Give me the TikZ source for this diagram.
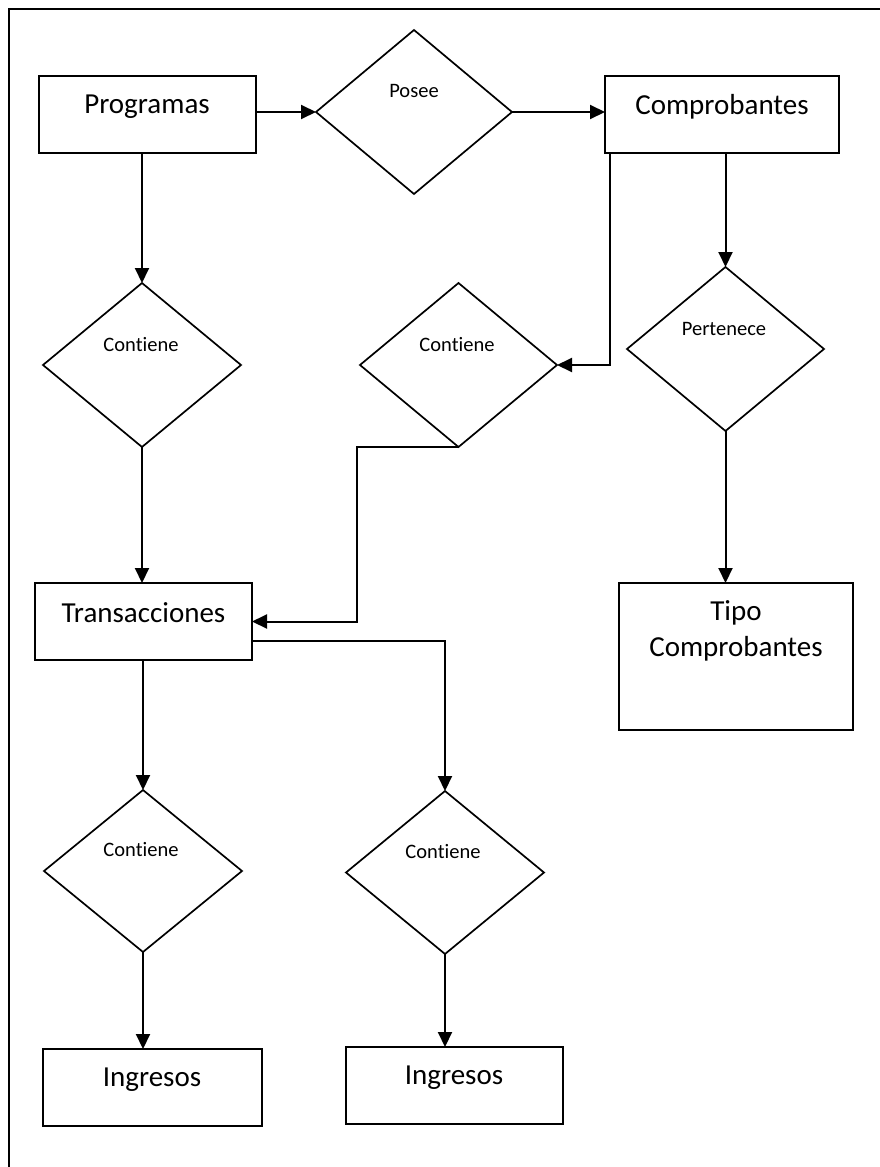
\documentclass[tikz,border=0pt]{standalone}
\usepackage{fontspec}
\setmainfont[Ligatures={NoCommon}]{Carlito}
\usetikzlibrary{shapes.geometric,arrows.meta}
\tikzset{
  ent/.style={draw, rectangle, line width=2pt, inner sep=0pt, outer sep=0pt},
  rel/.style={draw, diamond, line width=1.7pt, inner sep=0pt, outer sep=0pt},
  bigtxt/.style={font=\fontsize{29}{36}\selectfont, inner sep=0pt, align=center},
  smalltxt/.style={font=\fontsize{20.5}{24}\selectfont, inner sep=0pt},
  conn/.style={line width=2pt, -{Triangle[length=15pt,width=14pt]}},
  frameline/.style={line width=2pt}
}
\begin{document}
\begin{tikzpicture}[x=1pt,y=-1pt]
\useasboundingbox (0,0) rectangle (880,1167);
% frame
\coordinate (ftr) at (880,9);
\coordinate (ftl) at (9,9);
\coordinate (fbl) at (9,1167);
\draw[frameline] (ftr) -- (ftl) -- (fbl);

% entities
\node[ent, minimum width=217pt, minimum height=77pt] (prog) at (147.5,114.5) {};
\node[ent, minimum width=234pt, minimum height=77pt] (comp) at (722,114.5) {};
\node[ent, minimum width=217pt, minimum height=77pt] (trans) at (143.5,621.5) {};
\node[ent, minimum width=234pt, minimum height=147pt] (tipo) at (736,656.5) {};
\node[ent, minimum width=219pt, minimum height=77pt] (ing1) at (152.5,1087.5) {};
\node[ent, minimum width=217pt, minimum height=77pt] (ing2) at (454.5,1085.5) {};

% relationships
\node[rel, minimum width=196pt, minimum height=164pt] (posee) at (414,112) {};
\node[rel, minimum width=198pt, minimum height=164pt] (cont1) at (142,365) {};
\node[rel, minimum width=197pt, minimum height=164pt] (cont2) at (458.5,365) {};
\node[rel, minimum width=197pt, minimum height=164pt] (pert) at (725.5,349) {};
\node[rel, minimum width=198pt, minimum height=162pt] (cont3) at (143,871) {};
\node[rel, minimum width=198pt, minimum height=163pt] (cont4) at (445,872.5) {};

% texts
\node[bigtxt] (progt) at (147,107) {Programas};
\node[bigtxt] (compt) at (722,107) {Comprobantes};
\node[bigtxt] (transt) at (143.5,613) {Transacciones};
\node[bigtxt] (tipot) at (736,631) {Tipo\\Comprobantes};
\node[bigtxt] (ing1t) at (152,1080) {Ingresos};
\node[bigtxt] (ing2t) at (454,1078) {Ingresos};
\node[smalltxt] (poseet) at (414,91) {Posee};
\node[smalltxt] (cont1t) at (141,345) {Contiene};
\node[smalltxt] (cont2t) at (457,345) {Contiene};
\node[smalltxt] (pertt) at (724,329) {Pertenece};
\node[smalltxt] (cont3t) at (141,850) {Contiene};
\node[smalltxt] (cont4t) at (443,852) {Contiene};

% connectors
\draw[conn] (prog.east |- posee.west) -- (posee.west);
\draw[conn] (posee.east) -- (posee.east -| comp.west);
\draw[conn] (pert.north |- comp.south) -- (pert.north);
\draw[conn] ([xshift=5pt]comp.south west) |- (cont2.east);
\draw[conn] (cont1.north |- prog.south) -- (cont1.north);
\draw[conn] (cont1.south) -- (cont1.south |- trans.north);
\coordinate (k1) at (357,447);
\draw[conn] (cont2.south) -- (k1) |- (trans.east);
\draw[conn] ([yshift=-19.5pt]trans.east) -| (cont4.north);
\draw[conn] (cont3.north |- trans.south) -- (cont3.north);
\draw[conn] (cont3.south) -- (cont3.south |- ing1.north);
\draw[conn] (cont4.south) -- (cont4.south |- ing2.north);
\draw[conn] (pert.south) -- (pert.south |- tipo.north);
\end{tikzpicture}
\end{document}
